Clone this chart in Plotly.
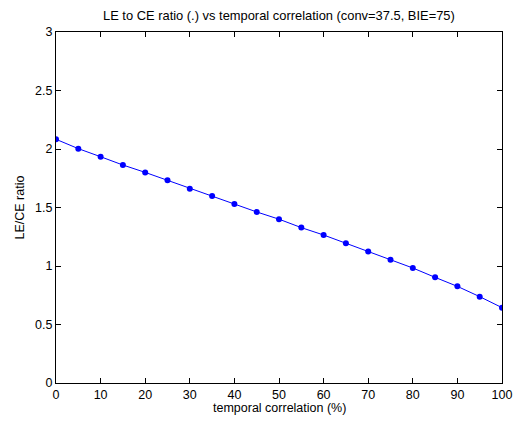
import plotly.graph_objects as go

corr = [0, 5, 10, 15, 20, 25, 30, 35, 40, 45, 50, 55, 60, 65, 70, 75, 80, 85, 90, 95, 100]
ratio = [2.083, 2.003, 1.934, 1.863, 1.800, 1.732, 1.660, 1.598, 1.530, 1.462, 1.400,
         1.328, 1.265, 1.194, 1.125, 1.054, 0.983, 0.903, 0.826, 0.738, 0.644]
xticks = [0, 10, 20, 30, 40, 50, 60, 70, 80, 90, 100]
yticks = [0, 0.5, 1, 1.5, 2, 2.5, 3]
ytick_text = ["0", "0.5", "1", "1.5", "2", "2.5", "3"]

fig = go.Figure()
fig.add_trace(go.Scatter(
    x=corr, y=ratio, mode="lines+markers",
    line=dict(color="#0000ff", width=1),
    marker=dict(color="#0000ff", size=6),
    showlegend=False,
))

font = dict(family="Liberation Sans, Arial, sans-serif", size=12.5, color="black")
title_font = dict(family="Liberation Sans, Arial, sans-serif", size=12.9, color="black")
axis_common = dict(
    showgrid=False, zeroline=False, showline=True, linecolor="black", linewidth=1,
    mirror="allticks", ticks="inside", ticklen=5, tickcolor="black",
    tickfont=font, automargin=False,
)
fig.update_layout(
    template="none",
    width=517, height=421,
    margin=dict(l=56, r=15, t=32, b=38, autoexpand=False),
    paper_bgcolor="white", plot_bgcolor="white",
    font=font,
    xaxis=dict(range=[0, 100], tickvals=xticks, **axis_common),
    yaxis=dict(range=[0, 3], tickvals=yticks, ticktext=ytick_text, **axis_common),
    annotations=[
        dict(text="LE to CE ratio (.) vs temporal correlation (conv=37.5, BIE=75)",
             xref="paper", yref="paper", x=0.5, y=1, yshift=17, showarrow=False,
             xanchor="center", yanchor="middle", font=title_font),
        dict(text="temporal correlation (%)",
             xref="paper", yref="paper", x=0.5, y=0, yshift=-25, showarrow=False,
             xanchor="center", yanchor="middle", font=font),
        dict(text="LE/CE ratio", textangle=-90,
             xref="paper", yref="paper", x=0, xshift=-37, y=0.5, showarrow=False,
             xanchor="center", yanchor="middle", font=font),
    ],
)
fig.write_html("out.html")
